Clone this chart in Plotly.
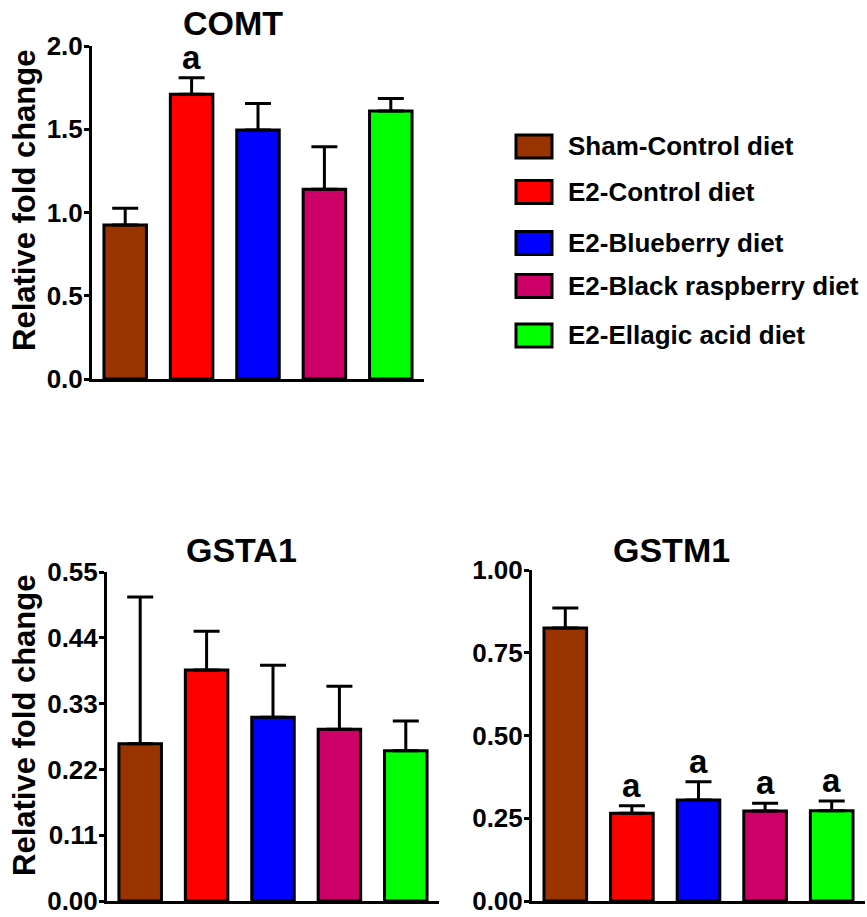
import plotly.graph_objects as go

groups = ['Sham-Control diet', 'E2-Control diet', 'E2-Blueberry diet',
          'E2-Black raspberry diet', 'E2-Ellagic acid diet']
colors = ['#993300', '#FF0000', '#0000FF', '#CC0066', '#00FF00']

# COMT
comt_mean = [0.925, 1.71, 1.495, 1.14, 1.61]
comt_err = [0.10, 0.10, 0.16, 0.255, 0.075]
comt_sig = ['', 'a', '', '', '']
comt_ticks = [0, 0.5, 1.0, 1.5, 2.0]
comt_ticktext = ['0.0', '0.5', '1.0', '1.5', '2.0']

# GSTA1
gsta1_mean = [0.263, 0.386, 0.307, 0.287, 0.251]
gsta1_err = [0.245, 0.065, 0.087, 0.072, 0.050]
gsta1_sig = ['', '', '', '', '']
gsta1_ticks = [0, 0.11, 0.22, 0.33, 0.44, 0.55]
gsta1_ticktext = ['0.00', '0.11', '0.22', '0.33', '0.44', '0.55']

# GSTM1
gstm1_mean = [0.825, 0.265, 0.305, 0.272, 0.273]
gstm1_err = [0.06, 0.023, 0.055, 0.023, 0.029]
gstm1_sig = ['', 'a', 'a', 'a', 'a']
gstm1_ticks = [0, 0.25, 0.5, 0.75, 1.0]
gstm1_ticktext = ['0.00', '0.25', '0.50', '0.75', '1.00']

W, H = 867, 917
FONT = 'Liberation Sans, Arial, sans-serif'


def px_x(v):
    return v / W


def px_y(v):
    return 1 - v / H


panels = [
    dict(title='COMT', mean=comt_mean, err=comt_err, sig=comt_sig,
         ticks=comt_ticks, ticktext=comt_ticktext, top=2.0,
         xdom=[px_x(92), px_x(424)], ydom=[px_y(379), px_y(46)],
         title_pos=(233, 23), ytitle=True, ytitle_y=201),
    dict(title='GSTA1', mean=gsta1_mean, err=gsta1_err, sig=gsta1_sig,
         ticks=gsta1_ticks, ticktext=gsta1_ticktext, top=0.55,
         xdom=[px_x(107), px_x(439)], ydom=[px_y(901), px_y(572)],
         title_pos=(241, 550), ytitle=True, ytitle_y=726),
    dict(title='GSTM1', mean=gstm1_mean, err=gstm1_err, sig=gstm1_sig,
         ticks=gstm1_ticks, ticktext=gstm1_ticktext, top=1.0,
         xdom=[px_x(532), px_x(865)], ydom=[px_y(901), px_y(570)],
         title_pos=(671, 550), ytitle=False, ytitle_y=None),
]

fig = go.Figure()
annotations = []
for i, p in enumerate(panels):
    n = '' if i == 0 else str(i + 1)
    fig.add_trace(go.Bar(
        x=groups, y=p['mean'],
        marker=dict(color=colors, line=dict(color='black', width=3)),
        width=0.64,
        error_y=dict(type='data', array=p['err'], arrayminus=[0] * 5,
                     symmetric=False, color='black', thickness=3, width=13),
        xaxis='x' + n, yaxis='y' + n,
        showlegend=False, hoverinfo='skip',
    ))
    fig.update_layout({
        'xaxis' + n: dict(domain=p['xdom'], anchor='y' + n, range=[-0.5, 4.5],
                          showline=True, linewidth=3, linecolor='black',
                          showticklabels=False, ticks='', showgrid=False,
                          zeroline=False, automargin=False),
        'yaxis' + n: dict(domain=p['ydom'], anchor='x' + n, range=[0, p['top']],
                          tickmode='array', tickvals=p['ticks'], ticktext=p['ticktext'],
                          showline=True, linewidth=3, linecolor='black',
                          ticks='outside', ticklen=5, tickwidth=3, tickcolor='black',
                          ticklabelstandoff=-4, ticklabeloverflow='allow',
                          tickfont=dict(size=26, family=FONT, color='black', weight='bold'),
                          showgrid=False, zeroline=False, automargin=False),
    })
    # significance letters
    for g, m, e, s in zip(groups, p['mean'], p['err'], p['sig']):
        if s:
            annotations.append(dict(x=g, y=m + e, xref='x' + n, yref='y' + n,
                                    text=s, showarrow=False, yanchor='bottom',
                                    font=dict(size=33, family=FONT, color='black',
                                              weight='bold')))
    # panel title
    tx, ty = p['title_pos']
    annotations.append(dict(x=px_x(tx), y=px_y(ty), xref='paper', yref='paper',
                            text=p['title'], showarrow=False,
                            xanchor='center', yanchor='middle',
                            font=dict(size=34, family=FONT, color='black', weight='bold')))
    if p['ytitle']:
        annotations.append(dict(x=px_x(24), y=px_y(p['ytitle_y']), xref='paper', yref='paper',
                                text='Relative fold change', showarrow=False, textangle=-90,
                                xanchor='center', yanchor='middle',
                                font=dict(size=31, family=FONT, color='black', weight='bold')))

# legend drawn as swatches + labels
shapes = []
legend_y = [146.5, 192, 243, 286, 335.5]
for g, c, ly in zip(groups, colors, legend_y):
    shapes.append(dict(type='rect', xref='paper', yref='paper',
                       x0=px_x(516), x1=px_x(552), y0=px_y(ly + 11.5), y1=px_y(ly - 11.5),
                       fillcolor=c, line=dict(color='black', width=3)))
    annotations.append(dict(x=px_x(566), y=px_y(ly), xref='paper', yref='paper',
                            text=g, showarrow=False, xanchor='left', yanchor='middle',
                            font=dict(size=26, family=FONT, color='black', weight='bold')))

fig.update_layout(
    width=W, height=H,
    margin=dict(l=0, r=0, t=0, b=0, pad=0, autoexpand=False),
    paper_bgcolor='white', plot_bgcolor='white',
    font=dict(family=FONT, color='black'),
    annotations=annotations,
    shapes=shapes,
    showlegend=False,
)

# drop the browser's default body margin so the figure sits at the page corner
fig.write_html("out.html", config={'displayModeBar': False},
               post_script="document.body.style.margin='0';")
